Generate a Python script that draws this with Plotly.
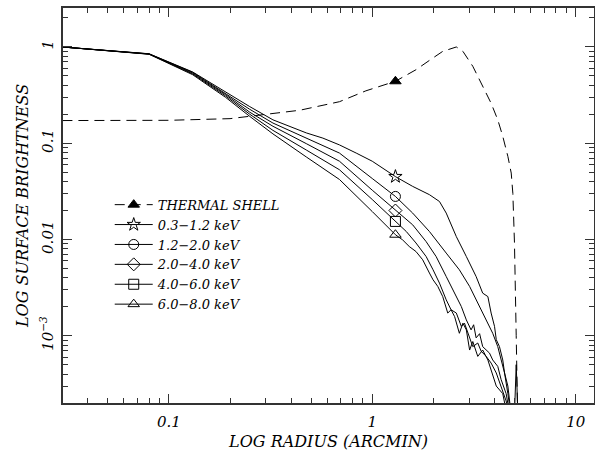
import numpy as np
import plotly.graph_objects as go

# ---------------- data ----------------
MARK_R = 1.3  # radius at which the series symbols sit

# Thermal shell model (dashed)
r_shell = [0.03, 0.1, 0.2, 0.3, 0.44, 0.69, 0.93, 1.3, 1.64, 1.99, 2.22, 2.59, 2.79,
           3.12, 3.49, 3.84, 4.14, 4.38, 4.64, 4.82, 4.91, 5.0, 5.1, 5.2]
y_shell = [0.172, 0.173, 0.18, 0.198, 0.22, 0.27, 0.35, 0.44, 0.58, 0.77, 0.90, 1.0, 0.90,
           0.63, 0.39, 0.26, 0.175, 0.118, 0.073, 0.049, 0.030, 0.0093, 0.001, 0.0001]

# 0.3-1.2 keV
r_b1 = [0.03, 0.08, 0.131, 0.19, 0.25, 0.325, 0.474, 0.572, 0.69, 0.834, 1.0, 1.3, 1.58,
        1.91, 2.14, 2.31, 2.59, 2.90, 3.24, 3.49, 3.70, 3.84, 3.99, 4.07, 4.22, 4.38, 4.47,
        4.64, 4.82, 5.0, 5.1, 5.2]
y_b1 = [1.0, 0.85, 0.55, 0.34, 0.24, 0.175, 0.128, 0.113, 0.096, 0.079, 0.065, 0.045, 0.0356,
        0.0292, 0.0248, 0.0188, 0.0107, 0.00665, 0.00412, 0.00277, 0.00255, 0.00172, 0.00125,
        0.00091, 0.00077, 0.00056, 0.00041, 0.0003, 0.00015, 0.00015, 0.0005, 0.00015]

# 1.2-2.0 keV
r_b2 = [0.03, 0.08, 0.131, 0.19, 0.25, 0.325, 0.474, 0.69, 1.0, 1.3, 1.58, 1.91, 2.31, 2.68,
        3.01, 3.37, 3.63, 3.91, 4.14, 4.30, 4.47, 4.64, 4.8]
y_b2 = [1.0, 0.848, 0.545, 0.33, 0.225, 0.162, 0.113, 0.079, 0.043, 0.028, 0.0188, 0.0121,
        0.00722, 0.00484, 0.00325, 0.00201, 0.00146, 0.00106, 0.00077, 0.00056, 0.00041,
        0.00025, 0.00015]

# 2.0-4.0 keV
r_b3 = [0.03, 0.08, 0.131, 0.19, 0.25, 0.325, 0.474, 0.69, 1.0, 1.3, 1.58, 1.84, 2.06, 2.31,
        2.54, 2.74, 2.90, 3.06, 3.15, 3.24, 3.37, 3.49, 3.77, 3.91, 4.14, 4.30, 4.55, 4.75]
y_b3 = [1.0, 0.845, 0.535, 0.32, 0.21, 0.150, 0.099, 0.065, 0.0325, 0.020, 0.0142, 0.0095,
        0.00665, 0.00412, 0.00277, 0.00201, 0.00146, 0.00115, 0.0013, 0.00095, 0.00105,
        0.00077, 0.00066, 0.00056, 0.00048, 0.00035, 0.00025, 0.00015]

# 4.0-6.0 keV
r_b4 = [0.03, 0.08, 0.131, 0.19, 0.25, 0.325, 0.474, 0.69, 1.0, 1.3, 1.47, 1.64, 1.84, 1.99,
        2.14, 2.31, 2.44, 2.59, 2.74, 2.84, 3.01, 3.12, 3.30, 3.43, 3.63, 3.84, 4.07, 4.30,
        4.55, 4.7]
y_b4 = [1.0, 0.843, 0.525, 0.31, 0.20, 0.136, 0.085, 0.053, 0.026, 0.0154, 0.0121, 0.0092,
        0.00665, 0.00484, 0.00352, 0.00236, 0.00186, 0.00172, 0.00125, 0.00135, 0.00098,
        0.00077, 0.00084, 0.00069, 0.00061, 0.00052, 0.00041, 0.00030, 0.00021, 0.00015]

# 6.0-8.0 keV
r_b5 = [0.03, 0.08, 0.131, 0.19, 0.25, 0.325, 0.474, 0.69, 1.0, 1.3, 1.41, 1.52, 1.64, 1.77,
        1.91, 1.99, 2.10, 2.22, 2.35, 2.44, 2.54, 2.68, 2.79, 2.90, 3.01, 3.12, 3.30, 3.49,
        3.70, 3.91, 4.07, 4.38, 4.6]
y_b5 = [1.0, 0.84, 0.515, 0.30, 0.19, 0.125, 0.072, 0.042, 0.0195, 0.0112, 0.0099, 0.00845,
        0.0075, 0.00615, 0.00448, 0.00381, 0.00325, 0.00255, 0.00172, 0.00186, 0.00158,
        0.00106, 0.00135, 0.00115, 0.00071, 0.00087, 0.00061, 0.00071, 0.00056, 0.00038,
        0.0003, 0.00025, 0.00015]

series_names = ["THERMAL SHELL", "0.3\u22121.2 keV", "1.2\u22122.0 keV", "2.0\u22124.0 keV",
                "4.0\u22126.0 keV", "6.0\u22128.0 keV"]

x_tickvals = [0.1, 1, 10]
x_ticktext = ["0.1", "1", "10"]
y_tickvals = [1, 0.1, 0.01, 0.001]
y_ticktext = ["1", "0.1", "0.01", "10<sup>\u22123</sup>"]

x_title = "LOG RADIUS (ARCMIN)"
y_title = "LOG SURFACE BRIGHTNESS"

# ---------------- figure ----------------
INK = "black"
AX = "#333333"
FONT = "DejaVu Serif"

curves = [
    (r_shell, y_shell, "triangle-up", "10px,6px"),
    (r_b1, y_b1, "star-open", "solid"),
    (r_b2, y_b2, "circle-open", "solid"),
    (r_b3, y_b3, "diamond-open", "solid"),
    (r_b4, y_b4, "square-open", "solid"),
    (r_b5, y_b5, "triangle-up-open", "solid"),
]

fig = go.Figure()
for name, (r, y, sym, dash) in zip(series_names, curves):
    line = dict(color=INK, width=1, dash=dash)
    fig.add_trace(go.Scatter(x=r, y=y, mode="lines", line=line, showlegend=False,
                             hoverinfo="skip"))
    i = r.index(MARK_R)
    fig.add_trace(go.Scatter(x=[r[i]], y=[y[i]], mode="lines+markers", name=name,
                             line=line,
                             marker=dict(symbol=sym, size=10, color=INK,
                                         line=dict(color=INK, width=1))))

def minor_vals(lo, hi):
    return [m * 10.0 ** e for e in range(lo, hi) for m in range(2, 10)]

axis_common = dict(
    type="log", showline=True, linecolor=AX, linewidth=1.5, mirror="allticks",
    ticks="inside", ticklen=9, tickwidth=1, tickcolor=AX, showgrid=False, zeroline=False,
    automargin=False,
    tickfont=dict(size=15, color=INK, family=FONT, style="italic"),
)

fig.update_layout(
    width=595, height=454,
    margin=dict(l=63, r=1, t=8, b=51),
    paper_bgcolor="white", plot_bgcolor="white",
    font=dict(family=FONT, color=INK, style="italic"),
    xaxis=dict(
        axis_common,
        range=[np.log10(0.0302), np.log10(12.3)],
        tickmode="array", tickvals=x_tickvals, ticktext=x_ticktext,
        minor=dict(tickmode="array", tickvals=minor_vals(-2, 2), ticks="inside",
                   ticklen=5, tickcolor=AX, tickwidth=1),
        ticklabelstandoff=4,
        title=dict(text=x_title, font=dict(size=16, family=FONT, style="italic"),
                   standoff=6),
    ),
    yaxis=dict(
        axis_common,
        range=[np.log10(2.0e-4), np.log10(2.54)],
        tickmode="array", tickvals=y_tickvals, ticktext=y_ticktext, tickangle=-90,
        minor=dict(tickmode="array", tickvals=minor_vals(-4, 1), ticks="inside",
                   ticklen=5, tickcolor=AX, tickwidth=1),
        ticklabelstandoff=2,
        title=dict(text=y_title, font=dict(size=16, family=FONT, style="italic"),
                   standoff=4),
    ),
    legend=dict(
        x=0.088, y=0.54, xanchor="left", yanchor="top",
        bgcolor="rgba(0,0,0,0)", borderwidth=0,
        font=dict(size=13, family=FONT, color=INK, style="italic"),
        tracegroupgap=0, itemwidth=38,
    ),
)

fig.write_html("out.html",
               config={"displayModeBar": False},
               post_script="document.body.style.margin='0px';document.body.style.overflow='hidden';")
